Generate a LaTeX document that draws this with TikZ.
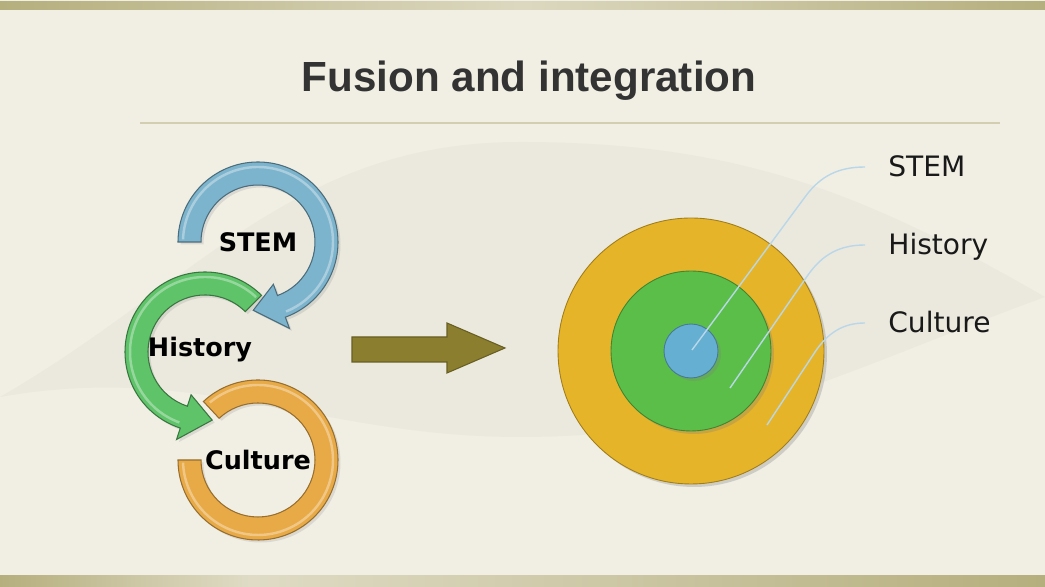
\documentclass[tikz,border=0pt]{standalone}
\usepackage{fontspec}
\setmainfont{DejaVu Sans}
\newfontfamily\titlefont{Liberation Sans}
\usepackage{tikz}
\usetikzlibrary{positioning,shadows}
\definecolor{cream}{RGB}{241,239,228}
\definecolor{khaki}{RGB}{181,174,125}
\definecolor{ringblue}{RGB}{125,180,205}
\definecolor{ringgreen}{RGB}{95,195,105}
\definecolor{ringorange}{RGB}{232,170,70}
\definecolor{arrowolive}{RGB}{139,126,46}
\definecolor{discgold}{RGB}{230,180,40}
\definecolor{discgreen}{RGB}{90,190,72}
\definecolor{discblue}{RGB}{100,175,210}
\definecolor{leaderblue}{RGB}{185,215,232}
\tikzset{
	ring/.style={line width=0.6pt,drop shadow={opacity=0.2,shadow xshift=0.05cm,shadow yshift=-0.05cm}},
	gloss/.style={white,opacity=0.35,line width=1.4pt},
	lab/.style={font=\bfseries\fontsize{14.5}{17}\selectfont},
	disc/.style={circle,inner sep=0pt,line width=0.5pt,drop shadow={opacity=0.3,shadow xshift=0.06cm,shadow yshift=-0.06cm}},
	keylab/.style={font=\fontsize{16}{19}\selectfont,anchor=base west,inner sep=0pt,text=black!90},
	leader/.style={draw=leaderblue,line width=0.8pt}
}
\begin{document}
\begin{tikzpicture}[x=0.02cm,y=0.02cm]
			\useasboundingbox (0,0) rectangle (1045,587);
			\fill[cream] (0,0) rectangle (1045,587);
			\fill[black!4!cream,opacity=0.6] (0,190) to[out=30,in=180] (520,445) to[out=0,in=150] (1045,290) to[out=200,in=0] (520,150) to[out=180,in=10] (0,190) -- cycle;
			\shade[left color=khaki,right color=khaki,middle color=khaki!35!cream] (0,577) rectangle (1045,585);
			\shade[left color=khaki,right color=khaki!30!cream] (0,0) rectangle (250,11);
			\shade[left color=khaki!30!cream,right color=khaki] (250,0) rectangle (1045,11);
			
			\node[font=\titlefont\bfseries\fontsize{24}{28}\selectfont,text=black!80,anchor=base] (title) at (529,495) {Fusion and integration};
			\draw[khaki!60,line width=0.8pt] (140,464)--(1000,464);
			
			\begin{scope}[shift={(258,127)}]
				\filldraw[ring,fill=ringorange,draw=ringorange!65!black] (133:80) arc[start angle=133,end angle=-180,radius=80] -- (180:57) arc[start angle=-180,end angle=133,radius=57] -- cycle;
				\draw[gloss] (130:75) arc[start angle=130,end angle=-178,radius=75];
			\end{scope}
			\begin{scope}[shift={(205,235)}]
				\filldraw[ring,fill=ringgreen,draw=ringgreen!60!black] (45:80) arc[start angle=45,end angle=252,radius=80] -- (252:92) -- (276:68.5) -- (252:45) -- (252:57) arc[start angle=252,end angle=45,radius=57] -- cycle;
				\draw[gloss] (47:75) arc[start angle=47,end angle=250,radius=75];
			\end{scope}
			\begin{scope}[shift={(258,345)}]
				\filldraw[ring,fill=ringblue,draw=ringblue!60!black] (180:80) arc[start angle=180,end angle=-70,radius=80] -- (-70:92) -- (-94:68.5) -- (-70:45) -- (-70:57) arc[start angle=-70,end angle=180,radius=57] -- cycle;
				\draw[gloss] (178:75) arc[start angle=178,end angle=-68,radius=75];
			\end{scope}
			\node[lab] (stem) at (258,345) {STEM};
			\node[lab] (hist) at (200,237) {History};
			\node[lab] (cult) at (258,127) {Culture};
			
			\filldraw[fill=arrowolive,draw=arrowolive!75!black,line width=0.6pt] (352,250)--(447,250)--(447,264)--(505,239)--(447,214)--(447,225)--(352,225)--cycle;
			
			\node[disc,fill=discgold,draw=discgold!70!black,minimum size=5.32cm] (culture) at (691,236) {};
			\node[disc,fill=discgreen,draw=discgreen!70!black,minimum size=3.2cm] (history) at (691,236) {};
			\node[disc,fill=discblue,draw=discblue!70!black,minimum size=1.08cm] (stemdisc) at (691,236) {};
			
			\node[keylab] (kstem) at (888,410) {STEM};
			\node[keylab] (khist) at (888,332) {History};
			\node[keylab] (kcult) at (888,254) {Culture};
			\coordinate (s0) at (692,237);
			\coordinate (h0) at (730,199);
			\coordinate (c0) at (767,162);
			\draw[leader] (s0)--++(113,153) to[out=54,in=180] ([xshift=-0.46cm,yshift=0.2cm]kstem.base west);
			\draw[leader] (h0)--++(78,113) to[out=55,in=180] ([xshift=-0.46cm,yshift=0.2cm]khist.base west);
			\draw[leader] (c0)--++(48,73) to[out=56,in=180] ([xshift=-0.46cm,yshift=0.2cm]kcult.base west);
		\end{tikzpicture}
\end{document}
